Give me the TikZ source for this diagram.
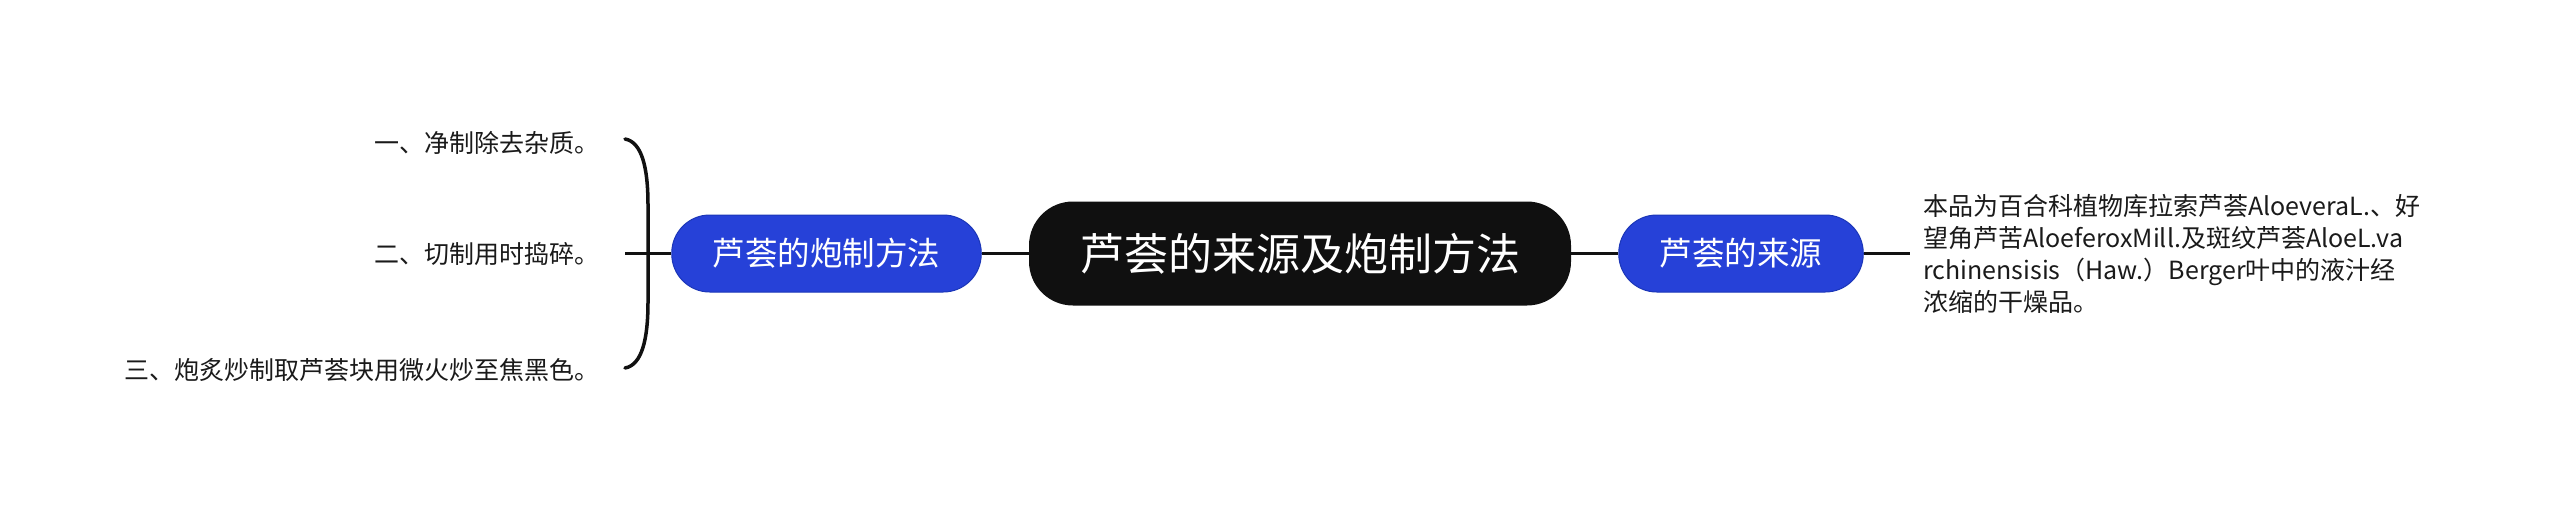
\documentclass[tikz,border=0pt]{standalone}
\usepackage{fontspec}
\setmainfont{Noto Sans CJK SC}
\definecolor{rootc}{HTML}{101010}
\definecolor{bluec}{HTML}{2641D8}
\definecolor{blueb}{HTML}{1B36B8}
\definecolor{linec}{HTML}{111111}
\definecolor{textc}{HTML}{1A1A1A}
\tikzset{
  rootbox/.style={fill=rootc, text=white, rounded corners=44pt, minimum width=542pt,
    minimum height=104pt, inner sep=0pt, font=\fontsize{44}{52}\selectfont},
  bluebox/.style={fill=bluec, draw=blueb, line width=1pt, text=white, rounded corners=38pt,
    minimum height=77pt, inner xsep=41pt, inner ysep=0pt, font=\fontsize{32.5}{38}\selectfont},
  itemtext/.style={text=textc, inner sep=0pt, anchor=east, font=\fontsize{25}{30}\selectfont},
  desctext/.style={text=textc, inner ysep=0pt, inner xsep=13pt, anchor=west, align=left,
    font=\fontsize{25}{32}\selectfont},
  conn/.style={draw=linec, line width=3pt},
  bracket/.style={draw=linec, line width=3.5pt, line cap=round}
}
\begin{document}
\begin{tikzpicture}[x=1pt,y=-1pt]
\useasboundingbox[fill=white] (0,0) rectangle (2560,507);
% central node
\node[rootbox] (root) at (1300,253.5) {芦荟的来源及炮制方法};
% branches
\node[bluebox] (lblue) at (826.5,253.5) {芦荟的炮制方法};
\node[bluebox] (rblue) at (1741,253.5) {芦荟的来源};
% right description
\node[desctext] (desc) at (1910,253.5) {本品为百合科植物库拉索芦荟AloeveraL.、好\\望角芦苦AloeferoxMill.及斑纹芦荟AloeL.va\\rchinensisis（Haw.）Berger叶中的液汁经\\浓缩的干燥品。};
% left items
\node[itemtext] (i1) at (600,143) {一、净制除去杂质。};
\node[itemtext] (i2) at (600,254) {二、切制用时捣碎。};
\node[itemtext] (i3) at (600,370) {三、炮炙炒制取芦荟块用微火炒至焦黑色。};
% bracket
\coordinate (btop) at (625,139);
\coordinate (bmid) at (625,253.5);
\coordinate (bbot) at (625,368);
\draw[bracket] (btop) .. controls (642,142) and (648,168) .. (648,205)
  -- (648,302) .. controls (648,339) and (642,365) .. (bbot);
% connectors
\draw[conn] (root.east) -- (rblue.west);
\draw[conn] (lblue.east) -- (root.west);
\draw[conn] (rblue.east) -- (desc.west);
\draw[conn] (lblue.west) -- (bmid);
\end{tikzpicture}
\end{document}
